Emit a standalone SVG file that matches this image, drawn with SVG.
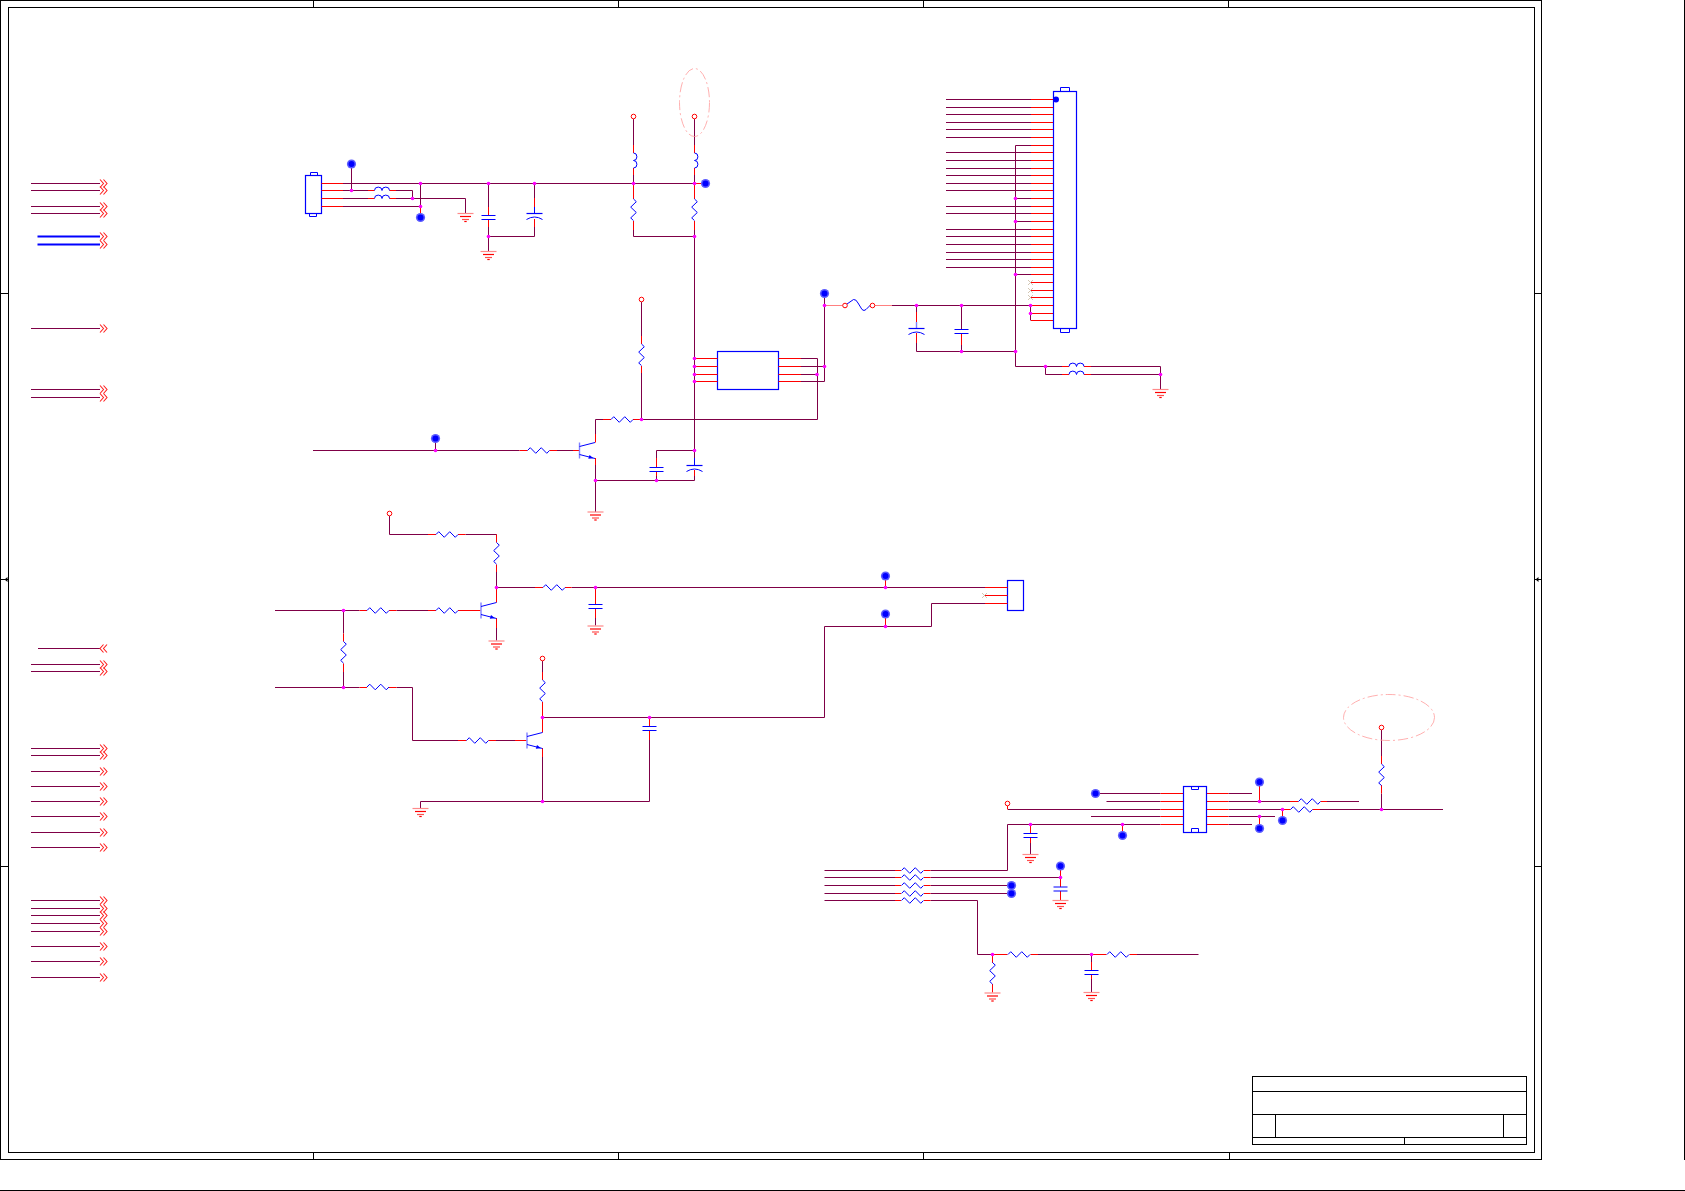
<svg xmlns="http://www.w3.org/2000/svg" width="1685" height="1191" viewBox="0 0 1685 1191">
<style>
.f{fill:none;stroke:#000;stroke-width:1}
.w{fill:none;stroke:#7f0046;stroke-width:1}
.r{fill:none;stroke:#f00;stroke-width:1}
.rl{fill:none;stroke:#ff8080;stroke-width:1}
.b{fill:none;stroke:#00f;stroke-width:1}
.bb{fill:none;stroke:#00f;stroke-width:1.2}
.bt{fill:none;stroke:#00f;stroke-width:2}
.d{fill:none;stroke:#ff9c9c;stroke-width:.8;stroke-dasharray:10 3 2 3}
</style>
<defs>
<g id="rh"><path class="b" d="M0 0l2.75-2.8 5.5 5.6 5.5-5.6 5.5 5.6 2.75-2.8"/></g>
<g id="rv"><path class="b" d="M0 0l2.8 2.7-5.6 5.4 5.6 5.4-5.6 5.4 2.8 2.7"/></g>
<g id="lh"><path class="b" d="M0 0a3.75 3.4 0 0 1 7.5 0a3.75 3.4 0 0 1 7.5 0"/></g>
<g id="lv"><path class="b" d="M0 0a3.4 3.75 0 0 1 0 7.5a3.4 3.75 0 0 1 0 7.5"/></g>
<g id="cap"><path class="bb" d="M-7 0H7M-7 4H7"/></g>
<g id="pcap"><path class="bb" d="M-8 0H8"/><path class="b" d="M-8 6Q0 1 8 6"/></g>
<g id="gnd"><path d="M-8 .5H8" stroke="#ff8a8a" stroke-width="1.2" fill="none"/><path d="M-5.5 3.5H5.5" stroke="#f00" stroke-width="1.2" fill="none"/><path d="M-3.5 6.5H3.5" stroke="#ff5050" stroke-width="1.2" fill="none"/><path d="M-1.2 8.5H1.2" stroke="#f00" stroke-width="1.2" fill="none"/></g>
<g id="tp"><circle r="4.6" fill="#5c5cff"/><circle r="3" fill="#00f"/></g>
<g id="pwr"><circle r="2.3" fill="#fff" stroke="#f00" stroke-width="1"/></g>
<g id="x"><path d="M-2.5-2.5L2.5 2.5M2.5-2.5L-2.5 2.5" stroke="#c8b8a0" stroke-width=".8" fill="none"/></g>
<g id="j"><circle r="1.8" fill="#f0f"/></g>
<g id="npn"><path d="M0-8V8" stroke="#8080ff" stroke-width="1.4" fill="none"/><path class="b" d="M0-4L15.5-8M0 4L15.5 8"/><path d="M10 4.6L14 7.8 8.8 8.3Z" fill="#00f"/></g>
<g id="chR"><path d="M0-4L3.5 0 0 4M3.5-4L7 0 3.5 4" fill="none" stroke="#ff2020" stroke-width="1.1"/></g>
<g id="chL"><path d="M3.5-4L0 0 3.5 4M7-4L3.5 0 7 4" fill="none" stroke="#ff2020" stroke-width="1.1"/></g>
</defs>

<g id="frame">
<rect class="f" x=".5" y=".5" width="1541" height="1159"/>
<rect class="f" x="8.5" y="7.5" width="1526" height="1145"/>
<path class="f" d="M1684.5 0V1160M0 1190.5H1685"/>
<path class="f" d="M313.5 0V7M618.5 0V7M923.5 0V7M1228.5 0V7M313.5 1153V1160M618.5 1153V1160M923.5 1153V1160M1229.5 1153V1160"/>
<path class="f" d="M0 293.5H8M0 579.5H8M0 866.5H8M1535 293.5H1542M1535 579.5H1542M1535 866.5H1542"/>
<path d="M4.5 579.5L7.5 577V582ZM1535.5 579.5L1538.5 577V582Z" fill="#000"/>
</g>
<g id="title-block">
<rect class="f" x="1252.5" y="1076.5" width="274" height="68"/>
<path class="f" d="M1252.5 1091.5H1526.5M1252.5 1114.5H1526.5M1252.5 1137.5H1526.5M1275.5 1114.5V1137.5M1503.5 1114.5V1137.5M1404.5 1137.5V1144.5"/>
</g>

<g id="connectors">
<path class="w" d="M31 183.5H100M31 190.5H100M31 206.5H100M31 213.5H100M31 328.5H100M31 389.5H100M31 397.5H100M38 648.5H100M31 664.5H100M31 671.5H100M31 748.5H100M31 755.5H100M31 771.5H100M31 786.5H100M31 801.5H100M31 816.5H100M31 832.5H100M31 847.5H100M31 900.5H100M31 908.5H100M31 915.5H100M31 923.5H100M31 931.5H100M31 946.5H100M31 961.5H100M31 977.5H100"/>
<path class="bt" d="M37.5 236.5H100M37.5 244.5H100"/>
<path class="w" d="M343 183.5H694.5M343 190.5H368M396 190.5H412.5V198.5M343 198.5H368M396 198.5H465.5V213M343 206.5H420.5M351.5 168V190.5M420.5 183.5V206.5M488.5 183.5V207M488.5 227V251M488.5 236.5H534.5V227M534.5 183.5V198"/>
<path class="w" d="M313 450.5H519.5M557 450.5H573"/>
<path class="w" d="M633.5 119V145M633.5 175V183.5M633.5 230V236.5H694.5M694.5 119V145M694.5 175V183.5M694.5 230V458M694.5 450.5H656.5V458M656.5 476V480.5M694.5 476V480.5H595.5M595.5 419.5V434M595.5 465V512M595.5 419.5H603M641.5 419.5H817.5V358.5H801M801 366.5H824.5M801 374.5H817.5M801 381.5H824.5V305.5M824.5 298V305.5M641.5 302V336M641.5 373V419.5"/>
<path class="w" d="M892 305.5H1031M916.5 305.5V312M916.5 343V351.5H1015.5M961.5 305.5V329M961.5 338V351.5"/>
<path class="w" d="M946 99.5H1031M946 107.5H1031M946 114.5H1031M946 122.5H1031M946 129.5H1031M946 137.5H1031M946 152.5H1031M946 160.5H1031M946 168.5H1031M946 175.5H1031M946 183.5H1031M946 190.5H1031M946 206.5H1031M946 213.5H1031M946 229.5H1031M946 236.5H1031M946 244.5H1031M946 252.5H1031M946 259.5H1031M946 267.5H1031M1015.5 145.5H1031M1015.5 198.5H1031M1015.5 221.5H1031M1015.5 274.5H1031M1015.5 145.5V366.5H1062M1045.5 366.5V374.5H1062M1030.5 305.5V320.5M1091 366.5H1160.5V389M1091 374.5H1160.5"/>
<path class="w" d="M389.5 516V534.5H428M465.5 534.5H496.5V542M496.5 572V602M496.5 587.5H535M571.5 587.5H985M595.5 587.5V592M595.5 618V625.5M496.5 628V640.5M885.5 580V587.5M985 603.5H931.5V626.5H824.5V717.5H542.5M885.5 618V626.5"/>
<path class="w" d="M275 610.5H359.5M396.5 610.5H428M343.5 610.5V633.5M343.5 672V687.5M275 687.5H359.5M396.5 687.5H412.5V740.5H458M496 740.5H515M542.5 661V672M542.5 757V801.5M420.5 801.5H649.5V740M420.5 801.5V808"/>
<path class="w" d="M824.5 870.5H895M824.5 877.5H895M824.5 885.5H895M824.5 893.5H895M824.5 900.5H895M930.5 870.5H1007.5V824.5H1160.5M930.5 877.5H1060.5M930.5 885.5H1008M930.5 893.5H1008M930.5 900.5H977.5V954.5H992.5M1038 954.5H1106M1137 954.5H1198.5M1091.5 954.5V962M1091.5 979V992M1008 809.5H1160.5M1095.5 793.5H1160.5M1106.5 801.5H1160.5M1091 816.5H1160.5M1030.5 843V854M1228.5 793.5H1252M1228.5 801.5H1290M1327 801.5H1359M1228.5 809.5H1290M1320 809.5H1443M1228.5 816.5H1275M1228.5 824.5H1252M1381.5 730V756M1381.5 793.5V809.5"/>
</g>

<g id="offpage">
<use href="#chR" x="100" y="183.5"/><use href="#chR" x="100" y="190.5"/><use href="#chR" x="100" y="206.5"/><use href="#chR" x="100" y="213.5"/><use href="#chR" x="100" y="236.5"/><use href="#chR" x="100" y="244.5"/><use href="#chR" x="100" y="328.5"/><use href="#chR" x="100" y="389.5"/><use href="#chR" x="100" y="397.5"/><use href="#chL" x="100" y="648.5"/><use href="#chR" x="100" y="664.5"/><use href="#chR" x="100" y="671.5"/><use href="#chR" x="100" y="748.5"/><use href="#chR" x="100" y="755.5"/><use href="#chR" x="100" y="771.5"/><use href="#chR" x="100" y="786.5"/><use href="#chR" x="100" y="801.5"/><use href="#chR" x="100" y="816.5"/><use href="#chR" x="100" y="832.5"/><use href="#chR" x="100" y="847.5"/><use href="#chR" x="100" y="900.5"/><use href="#chR" x="100" y="908.5"/><use href="#chR" x="100" y="915.5"/><use href="#chR" x="100" y="923.5"/><use href="#chR" x="100" y="931.5"/><use href="#chR" x="100" y="946.5"/><use href="#chR" x="100" y="961.5"/><use href="#chR" x="100" y="977.5"/>
</g>

<g id="J1">
<rect class="bb" x="305.5" y="175.5" width="16" height="38"/><path class="b" d="M310.5 175.5V172.5H317.5V175.5M309.5 213.5V216.5H316.5V213.5"/>
<path class="r" d="M321.5 183.5H343M321.5 190.5H343M321.5 198.5H343M321.5 206.5H343"/>
</g>
<g id="L1"><path class="r" d="M368 190.5H374.5M389.5 190.5H396M368 198.5H374.5M389.5 198.5H396"/><use href="#lh" x="374.5" y="190.5"/><use href="#lh" x="374.5" y="198.5"/></g>
<g id="TP1"><use href="#tp" x="351.5" y="164"/></g>
<g id="TP2"><path class="r" d="M420.5 206.5V214"/><use href="#tp" x="420.5" y="217.5"/></g>
<g id="C1"><path class="r" d="M488.5 207V215.5M488.5 219.5V227"/><use href="#cap" x="488.5" y="215.5"/></g>
<g id="C2"><path class="r" d="M534.5 198V207M534.5 219V227"/><path class="b" d="M534.5 207V213.5"/><use href="#pcap" x="534.5" y="213.5"/></g>
<g id="G1"><use href="#gnd" x="465.5" y="213"/></g>
<g id="G2"><use href="#gnd" x="488.5" y="251"/></g>

<g id="TP3"><path class="r" d="M694.5 183.5H703"/><use href="#tp" x="705.5" y="183.5"/></g>
<g id="P1"><use href="#pwr" x="633.5" y="116.5"/></g>
<g id="P2"><use href="#pwr" x="694.5" y="116.5"/></g>
<g id="L2"><path class="r" d="M633.5 145V153M633.5 168V175"/><use href="#lv" x="633.5" y="153"/></g>
<g id="L3"><path class="r" d="M694.5 145V153M694.5 168V175"/><use href="#lv" x="694.5" y="153"/></g>
<g id="R1"><path class="r" d="M633.5 183.5V199M633.5 221V230"/><use href="#rv" x="633.5" y="199"/></g>
<g id="R2"><path class="r" d="M694.5 183.5V199M694.5 221V230"/><use href="#rv" x="694.5" y="199"/></g>
<ellipse id="E1" class="d" cx="694.5" cy="102.5" rx="15" ry="34"/>

<g id="P3"><use href="#pwr" x="641.5" y="299.5"/></g>
<g id="R3"><path class="r" d="M641.5 336V344M641.5 366V373"/><use href="#rv" x="641.5" y="344"/></g>
<g id="R4"><path class="r" d="M603 419.5H611M633 419.5H641.5"/><use href="#rh" x="611" y="419.5"/></g>
<g id="R5"><path class="r" d="M519.5 450.5H527.5M549.5 450.5H557"/><use href="#rh" x="527.5" y="450.5"/></g>
<g id="TP4"><path class="w" d="M435.5 442V450.5"/><use href="#tp" x="435.5" y="438.5"/></g>
<g id="Q1"><path class="r" d="M573 450.5H579.5M595.5 442.5V434M595.5 458V465"/><use href="#npn" x="579.5" y="450.5"/></g>
<g id="C3"><path class="r" d="M694.5 470V476"/><path class="b" d="M694.5 458V465.5"/><use href="#pcap" x="694.5" y="465.5"/></g>
<g id="C4"><path class="r" d="M656.5 458V467.5M656.5 471.5V476"/><use href="#cap" x="656.5" y="467.5"/></g>
<g id="G3"><use href="#gnd" x="595.5" y="511.5"/></g>

<g id="U1">
<rect class="bb" x="717.5" y="351.5" width="61" height="38"/>
<path class="r" d="M695 358.5H717.5M695 366.5H717.5M695 374.5H717.5M695 381.5H717.5M778.5 358.5H801M778.5 366.5H801M778.5 374.5H801M778.5 381.5H801"/>
</g>
<g id="TP5"><use href="#tp" x="824.5" y="293.5"/></g>
<g id="F1">
<path class="rl" d="M824.5 305.5H842.5M875 305.5H892"/>
<path class="b" d="M847 304L853.5 299.5Q856 299 858 303L862 309.5Q864 311.5 866 309.5L870.5 305"/>
<circle cx="845" cy="305.5" r="2.3" fill="#fff" stroke="#f00"/><circle cx="872.5" cy="305.5" r="2.3" fill="#fff" stroke="#f00"/>
</g>
<g id="C5"><path class="r" d="M916.5 312V322M916.5 333V343"/><path d="M916.5 322V328.5" stroke="#8080ff" stroke-width="1.4"/><use href="#pcap" x="916.5" y="328.5"/></g>
<g id="C6"><path class="r" d="M961.5 333.5V345"/><use href="#cap" x="961.5" y="329.5"/></g>
<g id="L4"><path class="r" d="M1062 366.5H1069M1084 366.5H1091M1062 374.5H1069M1084 374.5H1091"/><use href="#lh" x="1069" y="366.5"/><use href="#lh" x="1069" y="374.5"/></g>
<g id="G4"><use href="#gnd" x="1160.5" y="389"/></g>

<g id="J2">
<path class="r" d="M1031 99.5H1053M1031 107.5H1053M1031 114.5H1053M1031 122.5H1053M1031 129.5H1053M1031 137.5H1053M1031 145.5H1053M1031 152.5H1053M1031 160.5H1053M1031 168.5H1053M1031 175.5H1053M1031 183.5H1053M1031 190.5H1053M1031 198.5H1053M1031 206.5H1053M1031 213.5H1053M1031 221.5H1053M1031 229.5H1053M1031 236.5H1053M1031 244.5H1053M1031 252.5H1053M1031 259.5H1053M1031 267.5H1053M1031 274.5H1053M1031 282.5H1053M1031 290.5H1053M1031 297.5H1053M1031 305.5H1053M1031 313.5H1053M1031 320.5H1053"/>
<rect class="bb" x="1053.5" y="91.5" width="23" height="237"/>
<path class="b" d="M1060.5 91.5V87.5H1069.5V91.5M1060.5 328.5V332.5H1069.5V328.5"/>
<circle cx="1056" cy="99.5" r="3" fill="#00f"/>
<use href="#x" x="1030.5" y="282.5"/><use href="#x" x="1030.5" y="290.5"/><use href="#x" x="1030.5" y="297.5"/>
</g>

<g id="P4"><use href="#pwr" x="389.5" y="513.5"/></g>
<g id="R6"><path class="r" d="M428 534.5H436M458 534.5H465.5"/><use href="#rh" x="436" y="534.5"/></g>
<g id="R7"><path class="r" d="M496.5 534.5V542.5M496.5 564.5V572"/><use href="#rv" x="496.5" y="542.5"/></g>
<g id="R8"><path class="r" d="M535 587.5H543M565 587.5H571.5"/><use href="#rh" x="543" y="587.5"/></g>
<g id="R9"><path class="r" d="M359.5 610.5H367M389 610.5H396.5"/><use href="#rh" x="367" y="610.5"/></g>
<g id="R10"><path class="r" d="M428 610.5H436M458 610.5H480.5"/><use href="#rh" x="436" y="610.5"/></g>
<g id="R11"><path class="r" d="M343.5 633.5V641.5M343.5 663.5V672"/><use href="#rv" x="343.5" y="641.5"/></g>
<g id="R12"><path class="r" d="M359.5 687.5H367M389 687.5H396.5"/><use href="#rh" x="367" y="687"/></g>
<g id="R13"><path class="r" d="M458 740.5H466.5M488.5 740.5H496M515 740.5H526.5"/><use href="#rh" x="466.5" y="740.5"/></g>
<g id="Q2"><path class="r" d="M496.5 587.5V602.5M496.5 618V628"/><use href="#npn" x="481" y="610.5"/></g>
<g id="Q3"><path class="r" d="M542.5 717.5V732.5M542.5 748V757"/><use href="#npn" x="527" y="740.5"/></g>
<g id="C7"><path class="r" d="M595.5 587.5V604.5M595.5 608.5V618"/><use href="#cap" x="595.5" y="604.5"/></g>
<g id="C8"><path class="r" d="M649.5 717.5V726.5M649.5 730.5V740"/><use href="#cap" x="649.5" y="726.5"/></g>
<g id="P5"><use href="#pwr" x="542.5" y="658.5"/></g>
<g id="R14"><path class="r" d="M542.5 672V680M542.5 702V717.5"/><use href="#rv" x="542.5" y="680"/></g>
<g id="G5"><use href="#gnd" x="496.5" y="640.5"/></g>
<g id="G6"><use href="#gnd" x="595.5" y="625.5"/></g>
<g id="G7"><use href="#gnd" x="420.5" y="808"/></g>
<g id="TP6"><path class="r" d="M885.5 580V587.5"/><use href="#tp" x="885.5" y="576"/></g>
<g id="TP7"><path class="r" d="M885.5 618V626.5"/><use href="#tp" x="885.5" y="614"/></g>
<g id="J3">
<rect class="bb" x="1007.5" y="580.5" width="16" height="30"/>
<path class="r" d="M985 587.5H1007.5M985 595.5H1007.5M985 603.5H1007.5"/>
<use href="#x" x="984.5" y="595.5"/>
</g>

<g id="RN1">
<path class="r" d="M895 870.5H901M924 870.5H930.5M895 877.5H901M924 877.5H930.5M895 885.5H901M924 885.5H930.5M895 893.5H901M924 893.5H930.5M895 900.5H901M924 900.5H930.5"/>
<use href="#rh" x="901.5" y="870.5"/><use href="#rh" x="901.5" y="877.5"/><use href="#rh" x="901.5" y="885.5"/><use href="#rh" x="901.5" y="893.5"/><use href="#rh" x="901.5" y="900.5"/>
</g>
<g id="TP8"><path class="r" d="M1060.5 870V877.5"/><use href="#tp" x="1060.5" y="866"/></g>
<g id="TP9"><use href="#tp" x="1011.5" y="885.5"/></g>
<g id="TP10"><use href="#tp" x="1011.5" y="893.5"/></g>
<g id="C9"><path class="r" d="M1060.5 877.5V887M1060.5 891V900"/><use href="#cap" x="1060.5" y="887"/></g>
<g id="G8"><use href="#gnd" x="1060.5" y="900"/></g>
<g id="R15"><path class="r" d="M992.5 954.5H1007.5M1030.5 954.5H1038"/><use href="#rh" x="1008" y="954.5"/></g>
<g id="R16"><path class="r" d="M1091.5 954.5H1106.5M1129.5 954.5H1137"/><use href="#rh" x="1107" y="954.5"/></g>
<g id="R17"><path class="r" d="M992.5 954.5V963M992.5 984V992.5"/><use href="#rv" x="992.5" y="962.5"/></g>
<g id="C10"><path class="r" d="M1091.5 962V970.5M1091.5 974.5V979"/><use href="#cap" x="1091.5" y="970.5"/></g>
<g id="G9"><use href="#gnd" x="992.5" y="992.5"/></g>
<g id="G10"><use href="#gnd" x="1091.5" y="992"/></g>

<g id="U2">
<path class="r" d="M1160.5 793.5H1183.5M1160.5 801.5H1183.5M1160.5 809.5H1183.5M1160.5 816.5H1183.5M1160.5 824.5H1183.5M1206.5 793.5H1228.5M1206.5 801.5H1228.5M1206.5 809.5H1228.5M1206.5 816.5H1228.5M1206.5 824.5H1228.5"/>
<rect class="bb" x="1183.5" y="786.5" width="23" height="46"/>
<path class="b" d="M1191.5 786.5V789.5H1198.5V786.5M1191.5 832.5V828.5H1198.5V832.5"/>
</g>
<g id="P6"><path class="r" d="M1007.5 806V809.5"/><use href="#pwr" x="1007.5" y="803.5"/></g>
<g id="TP11"><use href="#tp" x="1095.5" y="793.5"/></g>
<g id="TP12"><path class="r" d="M1122.5 824.5V832"/><use href="#tp" x="1122.5" y="835.5"/></g>
<g id="TP13"><path class="r" d="M1259.5 786V801.5"/><use href="#tp" x="1259.5" y="782"/></g>
<g id="TP14"><path class="r" d="M1259.5 816.5V825"/><use href="#tp" x="1259.5" y="828.5"/></g>
<g id="TP15"><path class="r" d="M1282.5 809.5V817"/><use href="#tp" x="1282.5" y="820.5"/></g>
<g id="R18"><path class="r" d="M1290 801.5H1298.5M1320.5 801.5H1327"/><use href="#rh" x="1298.5" y="801.5"/></g>
<g id="R19"><path class="r" d="M1282.5 809.5H1290.5M1312.5 809.5H1320"/><use href="#rh" x="1290.5" y="809.5"/></g>
<g id="C11"><path class="r" d="M1030.5 824.5V833.5M1030.5 837.5V843"/><use href="#cap" x="1030.5" y="833.5"/></g>
<g id="G11"><use href="#gnd" x="1030.5" y="854"/></g>
<g id="P7"><use href="#pwr" x="1381.5" y="727.5"/></g>
<g id="R20"><path class="r" d="M1381.5 756V764M1381.5 785V793.5"/><use href="#rv" x="1381.5" y="764"/></g>
<ellipse id="E2" class="d" cx="1389" cy="717.5" rx="45.5" ry="23"/>

<g id="junctions">
<use href="#j" x="351.5" y="190.5"/><use href="#j" x="412.5" y="198.5"/><use href="#j" x="420.5" y="183.5"/><use href="#j" x="420.5" y="206.5"/><use href="#j" x="488.5" y="183.5"/><use href="#j" x="534.5" y="183.5"/><use href="#j" x="488.5" y="236.5"/>
<use href="#j" x="633.5" y="183.5"/><use href="#j" x="694.5" y="183.5"/><use href="#j" x="694.5" y="236.5"/><use href="#j" x="435.5" y="450.5"/><use href="#j" x="641.5" y="419.5"/><use href="#j" x="694.5" y="450.5"/><use href="#j" x="595.5" y="480.5"/><use href="#j" x="656.5" y="480.5"/>
<use href="#j" x="694.5" y="358.5"/><use href="#j" x="694.5" y="366.5"/><use href="#j" x="694.5" y="374.5"/><use href="#j" x="694.5" y="381.5"/><use href="#j" x="817" y="374.5"/><use href="#j" x="824.5" y="366.5"/><use href="#j" x="824.5" y="305.5"/>
<use href="#j" x="916.5" y="305.5"/><use href="#j" x="961.5" y="305.5"/><use href="#j" x="961.5" y="351.5"/><use href="#j" x="1015.5" y="351.5"/><use href="#j" x="1015.5" y="198.5"/><use href="#j" x="1015.5" y="221.5"/><use href="#j" x="1015.5" y="274.5"/><use href="#j" x="1030.5" y="305.5"/><use href="#j" x="1030.5" y="313.5"/><use href="#j" x="1045.5" y="366.5"/><use href="#j" x="1160.5" y="374.5"/>
<use href="#j" x="496.5" y="587.5"/><use href="#j" x="595.5" y="587.5"/><use href="#j" x="885.5" y="587.5"/><use href="#j" x="885.5" y="626.5"/><use href="#j" x="343.5" y="610.5"/><use href="#j" x="343.5" y="687.5"/><use href="#j" x="542.5" y="717.5"/><use href="#j" x="649.5" y="717.5"/><use href="#j" x="542.5" y="801.5"/>
<use href="#j" x="1060.5" y="877.5"/><use href="#j" x="992.5" y="954.5"/><use href="#j" x="1091.5" y="954.5"/><use href="#j" x="1030.5" y="824.5"/><use href="#j" x="1122.5" y="824.5"/><use href="#j" x="1259.5" y="801.5"/><use href="#j" x="1259.5" y="816.5"/><use href="#j" x="1282.5" y="809.5"/><use href="#j" x="1381.5" y="809.5"/>
</g>
</svg>
